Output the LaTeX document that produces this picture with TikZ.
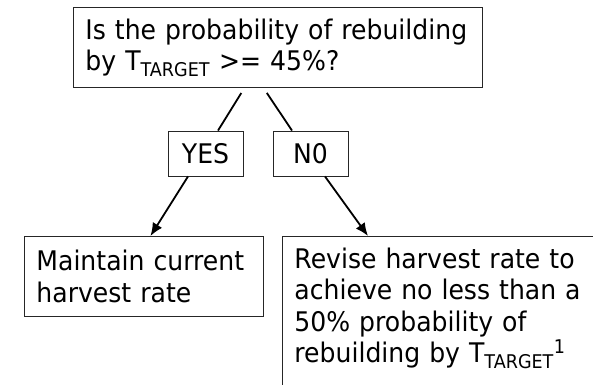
\documentclass[tikz,border=0pt]{standalone}
\usepackage{fontspec}
\setmainfont{DejaVu Sans}[FakeStretch=0.93]
\usetikzlibrary{arrows.meta}
\newcommand{\Ttgt}{T\textsubscript{TARGET}}

\begin{document}
\begin{tikzpicture}[x=1pt, y=-1pt, font=\fontsize{27}{31.5}\selectfont,
    box/.style={draw=black!85, line width=0.9pt, align=left, inner xsep=12pt},
    tag/.style={draw=black!85, line width=0.9pt, minimum width=75pt, minimum height=45pt, inner sep=0pt},
    link/.style={line width=1.8pt},
    arr/.style={line width=1.8pt, -{Latex[length=13pt,width=11pt]}}]
  \useasboundingbox (0,0) rectangle (593,384);
  \clip (0,0) rectangle (593,384);
  % question and the two answers
  \node[box, anchor=north west, text width=385pt, minimum height=80pt] (q) at (73,7)
    {Is the probability of rebuilding\\ by \Ttgt{} >= 45\%?};
  \node[tag] (yes) at (205.5,153.5) {YES};
  \node[tag] (no) at (310.5,153.5) {N0};
  % actions
  \node[box, anchor=north west, text width=215pt, minimum height=80pt] (keep) at (24,236)
    {Maintain current\\ harvest rate};
  \node[box, anchor=north west, text width=340pt, inner ysep=6pt, text height=26pt, text depth=130pt] (revise) at (282,236)
    {Revise harvest rate to\\ achieve no less than a\\ 50\% probability of\\ rebuilding by \Ttgt\textsuperscript{1}};
  \draw[link, shorten <=6pt] ([xshift=-33.5pt]q.south) -- ([xshift=12.5pt]yes.north);
  \draw[link, shorten <=6pt] ([xshift=-14.5pt]q.south) -- ([xshift=-18.5pt]no.north);
  \draw[arr] ([xshift=-17.5pt]yes.south) -- ([xshift=6.5pt]keep.north);
  \draw[arr] ([xshift=14.5pt]no.south) -- ([xshift=86pt]revise.north west);
\end{tikzpicture}
\end{document}
